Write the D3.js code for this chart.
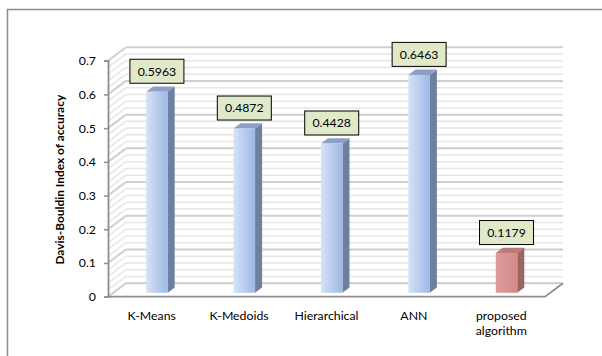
<!DOCTYPE html>
<html>
<head>
<meta charset="utf-8">
<script src="https://cdn.jsdelivr.net/npm/d3@7/dist/d3.min.js"></script>
<style>
  html, body { margin: 0; padding: 0; background: #fff; }
  svg { display: block; }
  text { font-family: Lato, "Open Sans", sans-serif; fill: #000; }
</style>
</head>
<body>
<svg id="chart" width="602" height="356"></svg>
<script>
// Davis-Bouldin index per clustering method
const categories = ["K-Means", "K-Medoids", "Hierarchical", "ANN", "proposed algorithm"];
const values = [0.5963, 0.4872, 0.4428, 0.6463, 0.1179];
const valueLabels = ["0.5963", "0.4872", "0.4428", "0.6463", "0.1179"];
const yTicks = [0, 0.1, 0.2, 0.3, 0.4, 0.5, 0.6, 0.7];
const axisTitle = "Davis-Bouldin Index of accuracy";

const svg = d3.select("#chart");
const W = 602, H = 356;

// outer chart-area frame
svg.append("rect").attr("x", 7.5).attr("y", 9.5).attr("width", W).attr("height", H)
  .attr("fill", "#fff").attr("stroke", "#8c8c8c").attr("stroke-width", 1.5);

// plot geometry (oblique 3D projection)
const DX = 18, DY = -13.5;          // depth offset of back wall
const x = d3.scaleBand().domain(categories).range([108, 545]).padding(0);
const y = d3.scaleLinear().domain([0, 0.7]).range([296.7, 60.7]);
const x0 = x.range()[0], x1 = x.range()[1];

const defs = svg.append("defs");
const gradBlue = defs.append("linearGradient").attr("id", "gBlue");
gradBlue.append("stop").attr("offset", "0%").attr("stop-color", "#d6e2f6");
gradBlue.append("stop").attr("offset", "100%").attr("stop-color", "#9db8e7");
const gradRed = defs.append("linearGradient").attr("id", "gRed");
gradRed.append("stop").attr("offset", "0%").attr("stop-color", "#dc9d9c");
gradRed.append("stop").attr("offset", "100%").attr("stop-color", "#d38b8a");

// wall stripes: minor lines every 0.02, major gridlines every 0.1
const stripes = y.ticks(35);
const isMajor = v => Math.abs(v * 10 - Math.round(v * 10)) < 1e-6;
const walls = svg.append("g");
stripes.forEach(v => {
  const yy = y(v);
  const major = isMajor(v);
  const col = major ? "#cfcfcf" : "#e6e6e6";
  const sw = major ? 2 : 1.5;
  // back wall
  walls.append("line")
    .attr("x1", x0 + DX).attr("x2", x1 + DX)
    .attr("y1", yy + DY).attr("y2", yy + DY)
    .attr("stroke", col).attr("stroke-width", sw);
  // side wall
  walls.append("line")
    .attr("x1", x0).attr("x2", x0 + DX)
    .attr("y1", yy).attr("y2", yy + DY)
    .attr("stroke", col).attr("stroke-width", sw);
});

// floor
svg.append("path")
  .attr("d", `M${x0},${y(0)} L${x1},${y(0)} L${x1 + DX},${y(0) + DY} L${x0 + DX},${y(0) + DY} Z`)
  .attr("fill", "#fff").attr("stroke", "none");
svg.append("line").attr("x1", x0 + DX).attr("x2", x1 + DX)
  .attr("y1", y(0) + DY).attr("y2", y(0) + DY)
  .attr("stroke", "#cfcfcf").attr("stroke-width", 2);
svg.append("line").attr("x1", x0).attr("x2", x0 + DX)
  .attr("y1", y(0)).attr("y2", y(0) + DY)
  .attr("stroke", "#cfcfcf").attr("stroke-width", 2);
svg.append("path")
  .attr("d", `M${x0},${y(0)} L${x1},${y(0)} L${x1 + DX},${y(0) + DY}`)
  .attr("fill", "none").attr("stroke", "#8e8e8e").attr("stroke-width", 1.8);

// y axis
const yAxis = svg.append("g").attr("transform", `translate(${x0},0)`)
  .call(d3.axisLeft(y).tickValues(yTicks).tickSize(4).tickPadding(8).tickFormat(d3.format("~g")));
yAxis.select(".domain").attr("stroke", "#8e8e8e").attr("stroke-width", 1.8);
yAxis.selectAll(".tick line").attr("stroke", "#8e8e8e").attr("stroke-width", 1.5);
yAxis.selectAll(".tick text").attr("font-size", "12.3px").attr("font-family", "Lato, sans-serif").attr("fill", "#000");

// axis title
svg.append("text")
  .attr("transform", `translate(64,${(y(0) + y(0.7)) / 2 + 1}) rotate(-90)`)
  .attr("text-anchor", "middle")
  .attr("font-size", "11.9px").attr("font-weight", "bold")
  .text(axisTitle);

// 3D columns
const F0 = 0.29, F1 = 0.68, BW = 21.5;
const bars = svg.append("g");
categories.forEach((c, i) => {
  const v = values[i];
  const red = i === categories.length - 1;
  const cx = x(c) + x.bandwidth() / 2 + DX * F0;
  const lx = cx - BW / 2, rx = cx + BW / 2;
  const ty = y(v) + DY * F0, by = y(0) + DY * F0;
  const ddx = DX * (F1 - F0), ddy = DY * (F1 - F0);
  // side face
  bars.append("path")
    .attr("d", `M${rx},${ty} L${rx + ddx},${ty + ddy} L${rx + ddx},${by + ddy} L${rx},${by} Z`)
    .attr("fill", red ? "#9c6463" : "#6e809f");
  // top face
  bars.append("path")
    .attr("d", `M${lx},${ty} L${lx + ddx},${ty + ddy} L${rx + ddx},${ty + ddy} L${rx},${ty} Z`)
    .attr("fill", red ? "#b97c7b" : "#8d9fc3");
  // front face
  bars.append("rect")
    .attr("x", lx).attr("y", ty).attr("width", BW).attr("height", by - ty)
    .attr("fill", red ? "url(#gRed)" : "url(#gBlue)");

  // value label box
  const bw = 54, bh = 24;
  const boxBottom = ty - 8.5;
  bars.append("rect")
    .attr("x", cx - bw / 2).attr("y", boxBottom - bh).attr("width", bw).attr("height", bh)
    .attr("fill", "#e0eac8").attr("stroke", "#000").attr("stroke-width", 1);
  bars.append("text")
    .attr("x", cx).attr("y", boxBottom - bh / 2 + 4.3)
    .attr("text-anchor", "middle").attr("font-size", "12.3px")
    .text(valueLabels[i]);
});

// category labels
categories.forEach(c => {
  const cx = x(c) + x.bandwidth() / 2;
  const words = c === "proposed algorithm" ? ["proposed", "algorithm"] : [c];
  const t = svg.append("text").attr("text-anchor", "middle").attr("font-size", "12.3px");
  words.forEach((w, k) => {
    t.append("tspan").attr("x", cx).attr("y", 319.5 + k * 15).text(w);
  });
});
</script>
</body>
</html>
